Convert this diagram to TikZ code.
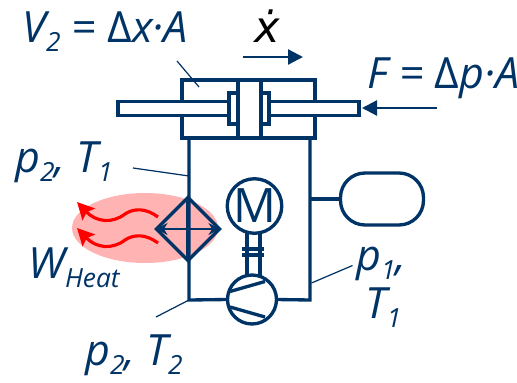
\documentclass[tikz,border=0pt]{standalone}
\usepackage{fontspec}
\setmainfont{Open Sans}
\newfontfamily\dotfont{DejaVu Sans}
\usetikzlibrary{arrows.meta, positioning, shapes.geometric, shapes.misc}
\definecolor{schemeBlue}{HTML}{003366}
\definecolor{heatRed}{HTML}{FF0000}
\definecolor{heatPink}{HTML}{FFB3B3}
\newcommand{\lowsub}[1]{\raisebox{-5.5pt}{\fontsize{15}{15}\selectfont #1}}
\tikzset{
  pipeL/.style={draw=schemeBlue, line width=1.9pt},
  leadL/.style={draw=schemeBlue, line width=0.7pt},
  arrowB/.style={-{Stealth[length=3mm, width=3mm, inset=0pt]}, schemeBlue, line width=1.3pt},
  arrowH/.style={-{Stealth[length=3.4mm, width=3.4mm, inset=0.6mm]}, heatRed, line width=1.8pt},
  boxP/.style={pipeL, fill=white, inner sep=0pt, outer sep=0pt},
  labelT/.style={text=schemeBlue, font=\fontsize{24.5}{28}\selectfont\itshape, inner sep=0pt, anchor=base west},
}
\begin{document}
\begin{tikzpicture}[x=0.02cm, y=-0.02cm]
    \useasboundingbox (0,0) rectangle (517,382);
    % heat zone
    \node[ellipse, fill=heatPink, minimum width=2.92cm, minimum height=1.4cm, inner sep=0pt] (heat) at (145,228) {};
    % lines of the circuit
    \coordinate (cornerL) at (189,300);
    \coordinate (cornerR) at (310,300);
    \coordinate (cylL) at (189,138);
    \coordinate (cylR) at (310,138);
    \coordinate (branch) at (310,199);
    \node[circle, boxP, minimum size=0.98cm] (pump) at (252,299.5) {};
    \node[rectangle, rounded corners=0.49cm, boxP, minimum width=1.66cm, minimum height=1.04cm] (tank) at (382,199) {};
    \draw[pipeL] (cylL) -- (cornerL) -- (pump.west);
    \draw[pipeL] (cylR) -- (cornerR) -- (pump.east);
    \draw[pipeL] (branch) -- (tank.west);
    % cooler
    \node[diamond, pipeL, minimum width=1.26cm, minimum height=1.26cm, inner sep=0pt, outer sep=0pt] (cooler) at (188,229) {};
    \draw[pipeL] (cooler.north) -- (cooler.south);
    \draw[{Stealth[length=2.2mm, width=2.4mm]}-{Stealth[length=2.2mm, width=2.4mm]}, schemeBlue, line width=1.5pt] (cooler.west) -- (cooler.east);
    % heat arrows
    \coordinate (heatA) at (158,217);
    \coordinate (heatB) at (77,202);
    \coordinate (heatC) at (158,243);
    \coordinate (heatD) at (77,228);
    \draw[arrowH] (heatA) .. controls (146,208) and (134,208) .. (125,214) .. controls (112,224) and (96,222) .. (heatB);
    \draw[arrowH] (heatC) .. controls (146,234) and (134,234) .. (125,240) .. controls (112,250) and (96,248) .. (heatD);
    % motor and pump
    \node[circle, boxP, minimum size=1.08cm, text=schemeBlue, font=\fontsize{27}{27}\selectfont] (motor) at (254.5,206) {M};
    \coordinate (shaftA) at (247,233);
    \coordinate (shaftB) at (260,233);
    \coordinate (shaftC) at (247,276);
    \coordinate (shaftD) at (260,276);
    \draw[pipeL] (shaftA) -- (shaftC);
    \draw[pipeL] (shaftB) -- (shaftD);
    \coordinate (clutchA) at (242,249);
    \coordinate (clutchB) at (264,249);
    \coordinate (clutchC) at (242,255);
    \coordinate (clutchD) at (264,255);
    \draw[pipeL] (clutchA) -- (clutchB);
    \draw[pipeL] (clutchC) -- (clutchD);
    \coordinate (pumpA) at (230,291.5);
    \coordinate (pumpB) at (265,281.5);
    \coordinate (pumpC) at (230,307);
    \coordinate (pumpD) at (265,317);
    \draw[pipeL] (pumpA) -- (pumpB);
    \draw[pipeL] (pumpC) -- (pumpD);
    % cylinder
    \node[rectangle, boxP, minimum width=2.66cm, minimum height=1.16cm] (cyl) at (248.5,109) {};
    \node[rectangle, boxP, minimum width=0.8cm, minimum height=0.62cm] (collar) at (249,108.5) {};
    \node[rectangle, boxP, minimum width=2.22cm, minimum height=0.28cm] (rodL) at (173.5,108.5) {};
    \node[rectangle, boxP, minimum width=1.8cm, minimum height=0.28cm] (rodR) at (314,108.5) {};
    \node[rectangle, boxP, minimum width=0.46cm, minimum height=1.16cm] (piston) at (249.5,109) {};
    % speed and force arrows
    \coordinate (speedA) at (243,57);
    \coordinate (speedB) at (303,57);
    \draw[arrowB] (speedA) -- (speedB);
    \coordinate (forceA) at (437,108);
    \coordinate (forceB) at (362,108);
    \draw[arrowB] (forceA) -- (forceB);
    % leaders
    \coordinate (leadA) at (177,61);
    \coordinate (leadB) at (199,87);
    \coordinate (leadC) at (133,168);
    \coordinate (leadD) at (189,176);
    \coordinate (leadE) at (156,317);
    \coordinate (leadF) at (352.5,265.5);
    \coordinate (leadG) at (311.5,283);
    \draw[leadL] (leadA) -- (leadB);
    \draw[leadL] (leadC) -- (leadD);
    \draw[leadL] (leadE) -- (cornerL);
    \draw[leadL] (leadF) -- (leadG);
    % labels
    \node[labelT] (lblV) at (22,42) {V\lowsub{2} = \textup{Δ}x·A};
    \node[labelT, text=black] (lblX) at (254,42) {\dotfont ẋ};
    \node[labelT] (lblF) at (367,88) {F = \textup{Δ}p·A};
    \node[labelT] (lblA) at (15,172) {p\lowsub{2}, T\lowsub{1}};
    \node[labelT] (lblW) at (28,278) {W\lowsub{Heat}};
    \node[labelT] (lblB) at (356,270) {p\lowsub{1},};
    \node[labelT] (lblC) at (365,318) {T\lowsub{1}};
    \node[labelT] (lblD) at (85,365) {p\lowsub{2}, T\lowsub{2}};
  \end{tikzpicture}
\end{document}
